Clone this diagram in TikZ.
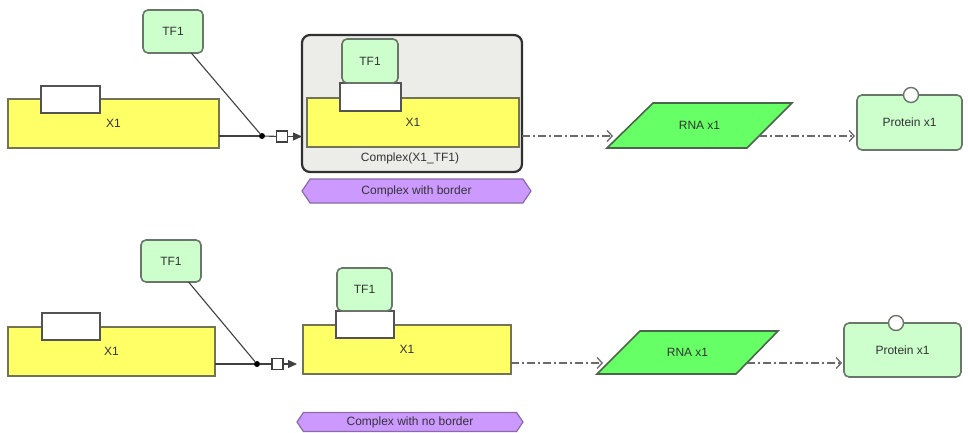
\documentclass[tikz,border=0pt]{standalone}
\usepackage{fontspec}
\setmainfont{Liberation Sans}
\usetikzlibrary{arrows.meta,shapes.symbols,calc}
\definecolor{yfill}{HTML}{FFFF66}
\definecolor{yline}{HTML}{737358}
\definecolor{gfill}{HTML}{CCFFCC}
\definecolor{gline}{HTML}{6A766A}
\definecolor{rfill}{HTML}{66FF66}
\definecolor{rline}{HTML}{4A654A}
\definecolor{cfill}{HTML}{ECECE8}
\definecolor{cline}{HTML}{303030}
\definecolor{pfill}{HTML}{CC99FF}
\definecolor{pline}{HTML}{8A6AAA}
\definecolor{txt}{HTML}{333333}
\definecolor{dline}{HTML}{6A6A6A}
\begin{document}
\begin{tikzpicture}[x=1pt,y=-1pt,
  box/.style={inner sep=0pt, outer sep=0pt, font=\fontsize{12}{14}\selectfont, text=txt},
  yel/.style={box, draw=yline, fill=yfill, line width=1.6pt},
  tf/.style={box, draw=gline, fill=gfill, line width=1.6pt, rounded corners=5pt},
  wbox/.style={box, draw=gray!65!black, fill=white, line width=1.6pt},
  cplx/.style={box, draw=cline, fill=cfill, line width=2.2pt, rounded corners=8pt},
  hex/.style={box, signal, signal to=west and east, signal pointer angle=112, draw=pline, fill=pfill, line width=1.2pt},
  rnashape/.style={draw=rline, fill=rfill, line width=1.6pt, line join=miter},
  prot/.style={box, draw=gline, fill=gfill, line width=1.6pt, rounded corners=5pt},
  dd/.style={dline, line width=1.3pt, dash pattern=on 8pt off 3pt on 2pt off 3pt, -{Straight Barb[length=5pt,width=11pt]}},
  conn/.style={line width=1.1pt, draw=black!75},
  dotnode/.style={circle, fill=black, inner sep=0pt, minimum size=6pt},
  sqnode/.style={draw=black!75, fill=white, line width=1.1pt, inner sep=0pt, minimum width=11pt, minimum height=11pt},
  site/.style={circle, draw=gline, fill=white, line width=1.4pt, inner sep=0pt, minimum size=15pt},
  tipfill/.style={conn, -{Triangle[length=9pt,width=8pt]}}
]
\useasboundingbox (0,0) rectangle (968,432);

% ---------------- top row ----------------
\node[tf, minimum width=60pt, minimum height=43pt] (tf1a) at (173,31.5) {TF1};
\node[yel, minimum width=211pt, minimum height=49pt] (x1a) at (113.5,123.5) {X1};
\node[wbox, minimum width=59pt, minimum height=27pt] (wa) at (70.5,99.5) {};
\node[dotnode] (dota) at (262,136) {};
\node[sqnode] (sqa) at (282,136.5) {};

\node[cplx, minimum width=220pt, minimum height=137pt] (cxa) at (412,103.5) {};
\node[yel, minimum width=212pt, minimum height=49pt] (ix1a) at (413,122.5) {X1};
\node[wbox, minimum width=61pt, minimum height=28pt] (iwa) at (370.5,97) {};
\node[tf, minimum width=56pt, minimum height=44pt] (itf1a) at (370,61) {TF1};
\node[box] (cxalab) at (410,158) {Complex(X1\_TF1)};
\node[hex, minimum width=229pt, minimum height=24pt] (hexa) at (416.5,191) {Complex with border};

\draw[rnashape] (607,148) -- (653,103) -- (792,103) -- (747,148) -- cycle;
\node[box] (rnaa) at (699.5,125.5) {RNA x1};
\coordinate (rnaaIn) at (613,136);
\coordinate (rnaaOut) at (759,136);

\node[prot, minimum width=105pt, minimum height=55pt] (prota) at (909.5,122.5) {Protein x1};
\node[site] (sitea) at (911,95) {};

\draw[conn] (x1a.east |- dota) -- (dota);
\draw[conn] (tf1a) -- (dota);
\draw[conn] (dota) -- (sqa);
\draw[tipfill] (sqa) -- (sqa -| cxa.west);
\draw[dd] (cxa.east |- rnaaIn) -- (rnaaIn);
\draw[dd] (rnaaOut) -- ([xshift=-2pt]prota.west |- rnaaOut);

% ---------------- bottom row ----------------
\node[tf, minimum width=60pt, minimum height=42pt] (tf1b) at (171,261) {TF1};
\node[yel, minimum width=207pt, minimum height=49pt] (x1b) at (111.5,351.5) {X1};
\node[wbox, minimum width=58pt, minimum height=27pt] (wb) at (71,326.5) {};
\node[dotnode] (dotb) at (257,364) {};
\node[sqnode] (sqb) at (277.5,364) {};

\node[yel, minimum width=208pt, minimum height=49pt] (ix1b) at (407,349.5) {X1};
\node[wbox, minimum width=58pt, minimum height=27pt] (iwb) at (365,324.5) {};
\node[tf, minimum width=55pt, minimum height=43pt] (itf1b) at (364.5,289.5) {TF1};
\node[hex, minimum width=226pt, minimum height=19pt] (hexb) at (410,422) {Complex with no border};

\draw[rnashape] (597,374) -- (640,331) -- (778,331) -- (736,374) -- cycle;
\node[box] (rnab) at (687.5,352.5) {RNA x1};
\coordinate (rnabIn) at (603,363);
\coordinate (rnabOut) at (747,363);

\node[prot, minimum width=117pt, minimum height=54pt] (protb) at (902.5,350) {Protein x1};
\node[site] (siteb) at (896,323) {};

\draw[conn] (x1b.east |- dotb) -- (dotb);
\draw[conn] (tf1b) -- (dotb);
\draw[conn] (dotb) -- (sqb);
\draw[tipfill] (sqb) -- ([xshift=-6pt]sqb -| ix1b.west);
\draw[dd] (ix1b.east |- rnabIn) -- (rnabIn);
\draw[dd] (rnabOut) -- ([xshift=-2pt]protb.west |- rnabOut);
\end{tikzpicture}
\end{document}
